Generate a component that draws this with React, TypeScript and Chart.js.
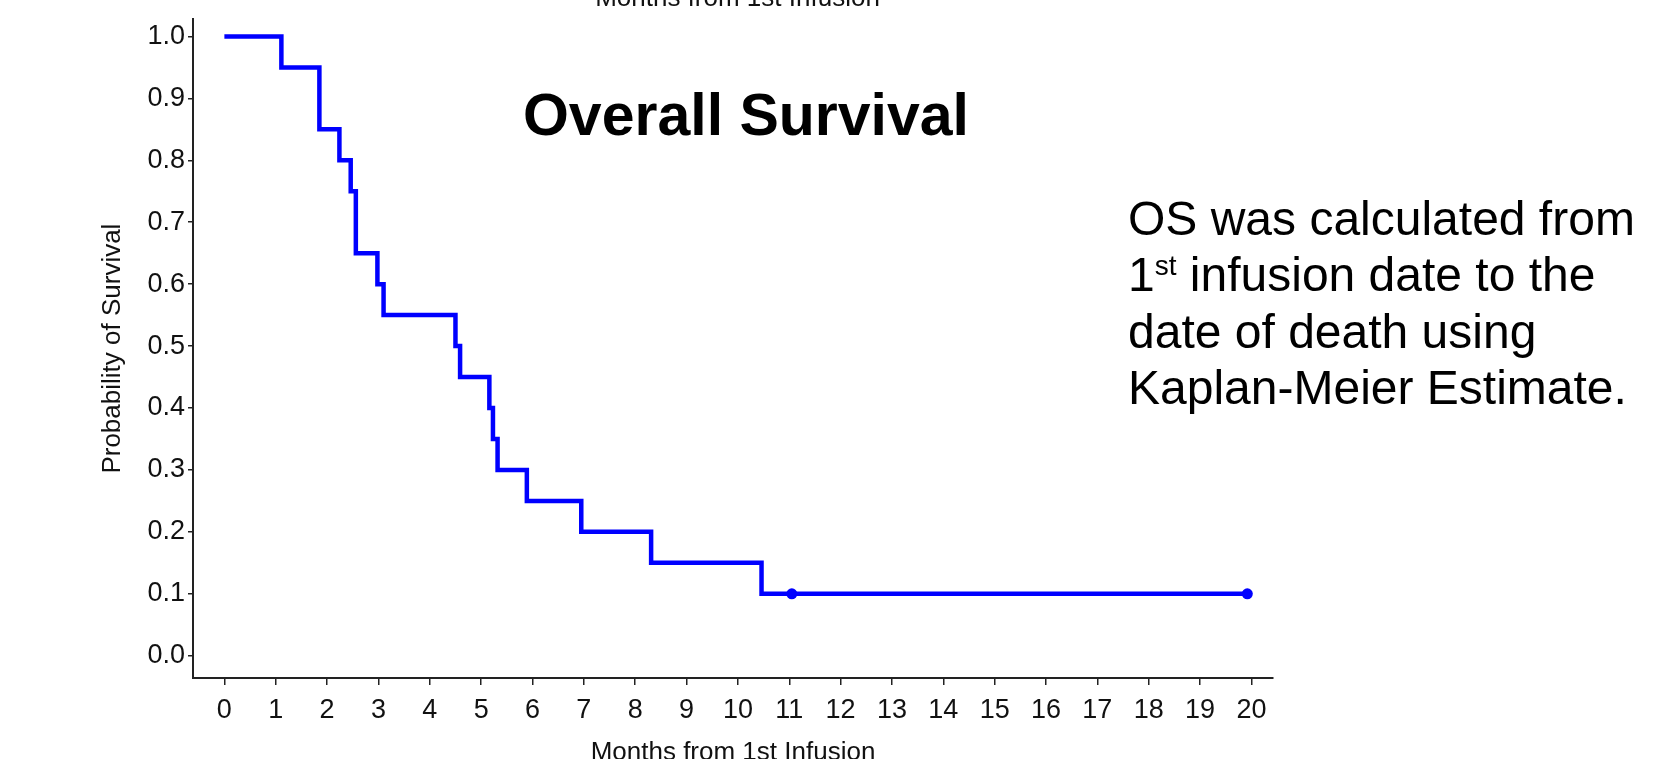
import React, { useEffect, useRef } from "react";
import { Chart, registerables } from "chart.js";

Chart.register(...registerables);

// Kaplan-Meier estimate
const eventTimes = [0, 1.11, 1.85, 2.24, 2.46, 2.56, 2.98, 3.1, 4.5, 4.59, 5.16, 5.23, 5.32, 5.89, 6.95, 8.31, 10.46, 19.92];
const survival = [1.0, 0.95, 0.85, 0.8, 0.75, 0.65, 0.6, 0.55, 0.5, 0.45, 0.4, 0.35, 0.3, 0.25, 0.2, 0.15, 0.1, 0.1];
const censorTimes = [11.05, 19.92];
const censorSurvival = [0.1, 0.1];
const xTicks = [0, 1, 2, 3, 4, 5, 6, 7, 8, 9, 10, 11, 12, 13, 14, 15, 16, 17, 18, 19, 20];
const yTicks = [0, 0.1, 0.2, 0.3, 0.4, 0.5, 0.6, 0.7, 0.8, 0.9, 1.0];

const xTitle = "Months from 1st Infusion";
const yTitle = "Probability of Survival";
const chartTitle = "Overall Survival";

const FONT = "'Liberation Sans', Arial, Helvetica, sans-serif";
const BLUE = "#0000FF";
const INK = "#111111";

export default function App() {
  const canvasRef = useRef<HTMLCanvasElement | null>(null);

  useEffect(() => {
    const canvas = canvasRef.current;
    if (!canvas) return;
    const chart = new Chart(canvas, {
      type: "line",
      data: {
        datasets: [
          {
            label: "OS",
            data: eventTimes.map((t, i) => ({ x: t, y: survival[i] })),
            borderColor: BLUE,
            backgroundColor: BLUE,
            borderWidth: 4.5,
            stepped: "before",
            pointRadius: 0,
            fill: false,
            borderCapStyle: "butt",
            borderJoinStyle: "miter",
          },
          {
            label: "Censored",
            data: censorTimes.map((t, i) => ({ x: t, y: censorSurvival[i] })),
            showLine: false,
            pointRadius: 5.5,
            pointBackgroundColor: BLUE,
            pointBorderColor: BLUE,
            pointBorderWidth: 0,
          },
        ],
      },
      options: {
        responsive: false,
        animation: false,
        devicePixelRatio: 1,
        layout: { padding: { top: 19, right: 396, left: 0, bottom: 0 } },
        plugins: {
          legend: { display: false },
          tooltip: { enabled: false },
          title: { display: false },
        },
        scales: {
          x: {
            type: "linear",
            min: -0.611,
            max: 20.42,
            afterBuildTicks: (s: any) => {
              s.ticks = xTicks.map((v) => ({ value: v }));
            },
            afterFit: (s: any) => {
              s.height = 81;
            },
            grid: {
              drawOnChartArea: false,
              drawTicks: true,
              tickLength: 7,
              color: "#222",
              lineWidth: 1.5,
            },
            border: { display: true, color: "#222", width: 2 },
            ticks: {
              font: { family: FONT, size: 27 },
              color: INK,
              padding: 9,
              maxRotation: 0,
              autoSkip: false,
              callback: (v: any) => String(v),
            },
            title: {
              display: true,
              text: xTitle,
              font: { family: FONT, size: 26, lineHeight: 1 },
              color: INK,
              padding: { top: 0, bottom: -6.6 },
            },
          },
          y: {
            type: "linear",
            min: -0.036,
            max: 1.0278,
            afterBuildTicks: (s: any) => {
              s.ticks = yTicks.map((v) => ({ value: v }));
            },
            afterFit: (s: any) => {
              s.width = 193;
            },
            grid: {
              drawOnChartArea: false,
              drawTicks: true,
              tickLength: 5,
              color: "#222",
              lineWidth: 1.5,
            },
            border: { display: true, color: "#222", width: 2 },
            ticks: {
              font: { family: FONT, size: 27 },
              color: INK,
              padding: 3,
              autoSkip: false,
              callback: (v: any) => Number(v).toFixed(1),
            },
            title: {
              display: true,
              text: yTitle,
              font: { family: FONT, size: 26, lineHeight: 1 },
              color: INK,
              padding: { top: 100, bottom: 0 },
            },
          },
        },
      },
    });
    return () => chart.destroy();
  }, []);

  return (
    <div
      style={{
        position: "fixed",
        left: 0,
        top: 0,
        width: 1669,
        height: 759,
        overflow: "hidden",
        background: "#ffffff",
        fontFamily: FONT,
      }}
    >
      <canvas
        ref={canvasRef}
        width={1669}
        height={759}
        style={{ position: "absolute", left: 0, top: 0, width: 1669, height: 759 }}
      />
      <div
        style={{
          position: "absolute",
          left: 437.5,
          top: -16,
          width: 600,
          textAlign: "center",
          fontSize: 26,
          lineHeight: "26px",
          color: INK,
          whiteSpace: "nowrap",
        }}
      >
        {xTitle}
      </div>
      <div
        style={{
          position: "absolute",
          left: 446,
          top: 86,
          width: 600,
          textAlign: "center",
          fontSize: 59,
          lineHeight: "59px",
          fontWeight: "bold",
          color: "#000",
          whiteSpace: "nowrap",
        }}
      >
        {chartTitle}
      </div>
      <div
        style={{
          position: "absolute",
          left: 1128,
          top: 191,
          fontSize: 48,
          lineHeight: "56.4px",
          color: "#000",
          whiteSpace: "nowrap",
        }}
      >
        <div style={{ height: 56.4 }}>OS was calculated from</div>
        <div style={{ height: 56.4 }}>
          1
          <span style={{ fontSize: 28, position: "relative", top: -16, lineHeight: 0 }}>st</span>
          {" infusion date to the"}
        </div>
        <div style={{ height: 56.4 }}>date of death using</div>
        <div style={{ height: 56.4 }}>Kaplan-Meier Estimate.</div>
      </div>
    </div>
  );
}
